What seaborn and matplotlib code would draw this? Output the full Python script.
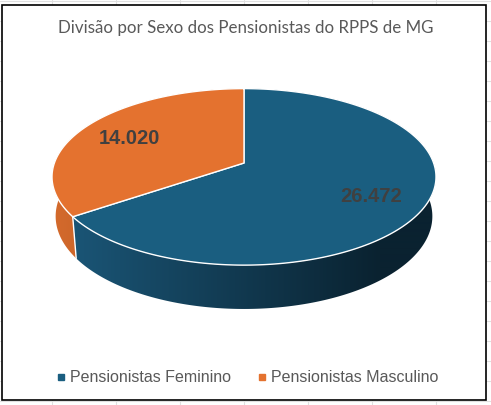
"""
Divisão por Sexo dos Pensionistas do RPPS de MG - 3D style pie chart.
"""

import numpy as np
import matplotlib
matplotlib.use("Agg")
import matplotlib.pyplot as plt
from matplotlib.patches import Rectangle, Polygon
from matplotlib.lines import Line2D
import seaborn as sns

# -------- Data -------- #

categories = ["Pensionistas Feminino", "Pensionistas Masculino"]
values = [26472, 14020]
value_labels = ["26.472", "14.020"]
title = "Divisão por Sexo dos Pensionistas do RPPS de MG"

# -------- Style -------- #

top_colors = ["#1A5E80", "#E4722F"]
side_light = [np.array([27, 88, 122]) / 255, np.array([212, 106, 44]) / 255]
side_dark = [np.array([10, 34, 48]) / 255, np.array([120, 55, 20]) / 255]
text_gray = "#595959"
label_gray = "#404040"

W, H = 491, 405

# perspective camera for the 3D pie
ELEV = np.radians(27)
DIST = 5.67
THICK = 0.235
CX, CY, SCALE = 244, 163, 1075


def project(theta, r=1.0, z=0.0):
    """Project points of the pie (angle in radians, radius, height) to pixels."""
    X = r * np.cos(theta)
    Y = r * np.sin(theta)
    d = DIST + Y * np.cos(ELEV) - z * np.sin(ELEV)
    sx = X / d
    sy = (Y * np.sin(ELEV) + z * np.cos(ELEV)) / d
    return CX + SCALE * sx, CY - SCALE * sy


sns.set_style("white")
plt.rcParams["font.family"] = ["Liberation Sans", "DejaVu Sans"]

fig = plt.figure(figsize=(W / 100, H / 100), dpi=100)
fig.patch.set_facecolor("white")

# spreadsheet grid showing around the chart box
for gx in range(52, W, 64):
    fig.add_artist(Line2D([gx / W] * 2, [0, 1], color="#e0e0e0", lw=0.8,
                          transform=fig.transFigure, zorder=-3))
for gy in range(1, H, 20):
    fig.add_artist(Line2D([0, 1], [1 - gy / H] * 2, color="#e0e0e0", lw=0.8,
                          transform=fig.transFigure, zorder=-3))

# chart area
fig.add_artist(Rectangle((2 / W, 1 - 400 / H), 484 / W, 395 / H,
                         facecolor="white", edgecolor="black", lw=1.2,
                         transform=fig.transFigure, zorder=-2))

# pixel-unit axes over the whole figure
ax = fig.add_axes([0, 0, 1, 1])
ax.set_xlim(0, W)
ax.set_ylim(H, 0)
ax.axis("off")
ax.patch.set_visible(False)

fractions = np.array(values) / np.sum(values)
ends = np.cumsum(fractions)
starts = ends - fractions

# horizontal shading ramp for the side walls
ramp = np.clip((np.arange(W) - 53) / 327, 0, 1)

for i, (s, e) in enumerate(zip(starts, ends)):
    th = np.radians(np.linspace(90 - e * 360, 90 - s * 360, 400))
    tx, ty = project(th)
    bx, by = project(th, z=-THICK)
    wall = Polygon(np.column_stack([np.r_[tx, bx[::-1]], np.r_[ty, by[::-1]]]),
                   closed=True, facecolor="none", edgecolor="none")
    ax.add_patch(wall)
    img = side_light[i][None, :] * (1 - ramp[:, None]) + side_dark[i][None, :] * ramp[:, None]
    im = ax.imshow(img[None, :, :], extent=(0, W, H, 0), aspect="auto",
                   interpolation="bilinear", zorder=1)
    im.set_clip_path(wall)

# white seams where slices meet on the front wall
for b in np.r_[0, ends[:-1]]:
    th = np.radians(90 - b * 360)
    if np.sin(th) < 0:
        x0, y0 = project(th)
        x1, y1 = project(th, z=-THICK)
        ax.plot([x0, x1], [y0, y1], color="white", lw=1, zorder=2)

# top face
for i, (s, e) in enumerate(zip(starts, ends)):
    th = np.radians(np.linspace(90 - e * 360, 90 - s * 360, 400))
    ex, ey = project(th)
    cx0, cy0 = project(0.0, r=0.0)
    ax.add_patch(Polygon(np.column_stack([np.r_[cx0, ex], np.r_[cy0, ey]]),
                         closed=True, facecolor=top_colors[i], edgecolor="white",
                         lw=1, zorder=3, joinstyle="round"))

# value labels
for s, e, lab in zip(starts, ends, value_labels):
    mid = np.radians(90 - (s + e) / 2 * 360)
    lx, ly = project(mid, r=0.72)
    ax.text(lx, ly + 3, lab, ha="center", va="center",
            fontsize=14.5, fontweight="bold", color=label_gray, zorder=5)

# title
fig.text(0.5, 1 - 28 / H, title, ha="center", va="center", fontsize=12.2,
         color=text_gray, family=["Lato", "DejaVu Sans"])

# legend
handles = [Line2D([], [], marker="s", linestyle="", markersize=5,
                  markerfacecolor=c, markeredgecolor=c) for c in top_colors]
fig.legend(handles, categories, loc="center", bbox_to_anchor=(0.5, 1 - 378 / H),
           ncol=2, frameon=False, fontsize=11.5, labelcolor=text_gray,
           handletextpad=0.05, columnspacing=1.45, handlelength=1.0)

plt.savefig("out.png", dpi=100)
plt.close()
